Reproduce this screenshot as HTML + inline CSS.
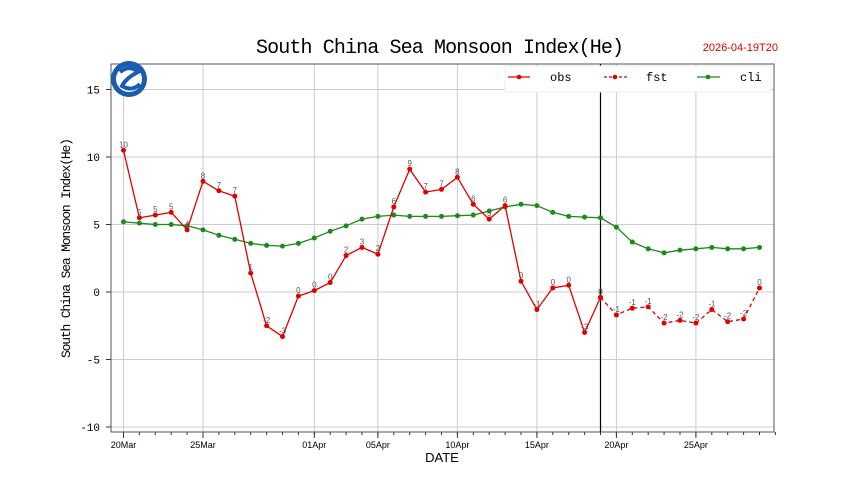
<!DOCTYPE html>
<html><head><meta charset="utf-8"><style>
body{margin:0;background:#fff;}
svg{display:block;font-family:"Liberation Sans","Noto Sans CJK SC",sans-serif;}
</style></head><body>
<svg id="chart" width="860" height="483" viewBox="0 0 860 483">
<text x="440" y="53" text-anchor="middle" font-size="20" font-family="Liberation Mono, monospace" textLength="368">South China Sea Monsoon Index(He)</text>
<text x="778" y="51" text-anchor="end" font-size="11" fill="#e00000">2026-04-19T20</text>
<g id="grid"></g>
<rect x="111" y="64" width="663" height="368" fill="none" stroke="#555" stroke-width="1"/>
<g>
<circle cx="129" cy="79" r="18" fill="#1a5cb0"/>
<circle cx="129" cy="79" r="13" fill="#fff"/>
<path d="M120 72 Q130 64 138 72 Q126 78 122 86 Q132 92 140 84" stroke="#1a5cb0" stroke-width="4" fill="none"/>
</g>
<g id="series"></g>
<g>
<rect x="505" y="66" width="266" height="26" fill="#fff" stroke="#eee"/>
<line x1="508" y1="77" x2="530" y2="77" stroke="#e00000" stroke-width="1.3"/><circle cx="519" cy="77" r="2.3" fill="#e00000"/>
<text x="550" y="81" font-size="12" font-family="Liberation Mono, monospace">obs</text>
<line x1="604" y1="77" x2="627" y2="77" stroke="#e00000" stroke-width="1.3" stroke-dasharray="3,2"/><circle cx="615" cy="77" r="2.3" fill="#e00000"/>
<text x="646" y="81" font-size="12" font-family="Liberation Mono, monospace">fst</text>
<line x1="697" y1="77" x2="720" y2="77" stroke="#1a8a1a" stroke-width="1.3"/><circle cx="708" cy="77" r="2.3" fill="#1a8a1a"/>
<text x="740" y="81" font-size="12" font-family="Liberation Mono, monospace">cli</text>
</g>
<text x="442" y="462" text-anchor="middle" font-size="13">DATE</text>
<text transform="translate(70,248) rotate(-90)" text-anchor="middle" font-size="13" font-family="Liberation Mono, monospace" textLength="220">South China Sea Monsoon Index(He)</text>
</svg>
<script>
const obsValues=[10.5,5.5,5.7,5.9,4.6,8.2,7.5,7.1,1.4,-2.5,-3.3,-0.3,0.1,0.7,2.7,3.3,2.8,6.3,9.1,7.4,7.6,8.5,6.5,5.4,6.4,0.8,-1.3,0.3,0.5,-3.0,-0.4];
const fstValues=[-0.4,-1.7,-1.2,-1.1,-2.3,-2.1,-2.3,-1.3,-2.2,-2.0,0.3];
const cliValues=[5.2,5.1,5.0,5.0,4.9,4.6,4.2,3.9,3.6,3.45,3.4,3.6,4.0,4.5,4.9,5.4,5.6,5.7,5.6,5.6,5.6,5.65,5.7,6.0,6.3,6.5,6.4,5.9,5.6,5.55,5.5,4.8,3.7,3.2,2.9,3.1,3.2,3.3,3.2,3.2,3.3];
const xTickDays=[0,5,12,16,21,26,31,36];
const xTickLabels=["20Mar","25Mar","01Apr","05Apr","10Apr","15Apr","20Apr","25Apr"];
const yTicks=[-10,-5,0,5,10,15];
const fstStartDay=30;
const NS="http://www.w3.org/2000/svg";
const X=d=>123.5+d*15.9;
const Y=v=>292-v*13.5;
function mk(tag,attrs,parent){const e=document.createElementNS(NS,tag);for(const k in attrs)e.setAttribute(k,attrs[k]);parent.appendChild(e);return e;}
const grid=document.getElementById('grid');
const ser=document.getElementById('series');
yTicks.forEach(v=>{
 const l=mk('line',{x1:111,x2:774,y1:Y(v),y2:Y(v),stroke:'#ccc','stroke-width':1},grid);
 
 
 mk('line',{x1:106,x2:111,y1:Y(v),y2:Y(v),stroke:'#333'},grid);
 const t=mk('text',{x:100,y:Y(v)+4,'text-anchor':'end','font-size':11,'font-family':'Liberation Mono, monospace'},grid);
 t.textContent=v;
 
 
});
for(let d=0;d<=41;d++){mk('line',{x1:X(d),x2:X(d),y1:432,y2:435,stroke:'#333'},grid);}
xTickDays.forEach((d,i)=>{
 const l=mk('line',{x1:X(d),x2:X(d),y1:64,y2:432,stroke:'#ccc','stroke-width':1},grid);
 
 
 mk('line',{x1:X(d),x2:X(d),y1:432,y2:438,stroke:'#333'},grid);
 const t=mk('text',{x:X(d),y:448,'text-anchor':'middle','font-size':9},grid);
 t.textContent=xTickLabels[i];
 
 
});
const vl=mk('line',{x1:X(fstStartDay),x2:X(fstStartDay),y1:64,y2:432,stroke:'#000','stroke-width':1.2},ser);


function draw(vals,off,color,dash,name,labels){
 const pts=vals.map((v,i)=>X(i+off).toFixed(1)+','+Y(v).toFixed(1)).join(' ');
 const pl=mk('polyline',{points:pts,fill:'none',stroke:color,'stroke-width':1.3},ser);
 if(dash)pl.setAttribute('stroke-dasharray','4,3');
 
 
 vals.forEach((v,i)=>{
  const c=mk('circle',{cx:X(i+off),cy:Y(v),r:2.5,fill:color},ser);
  
  
  if(labels){
   const t=mk('text',{x:X(i+off),y:Y(v)-3,'text-anchor':'middle','font-size':8,fill:'#555'},ser);
   const iv=Math.trunc(v);
   t.textContent=iv===0?0:iv;
   
   
  }
 });
}
draw(cliValues,0,'#1a8a1a',false,'cli',false);
draw(obsValues,0,'#e00000',false,'obs',true);
draw(fstValues,fstStartDay,'#e00000',true,'fst',true);
</script>
</body></html>
